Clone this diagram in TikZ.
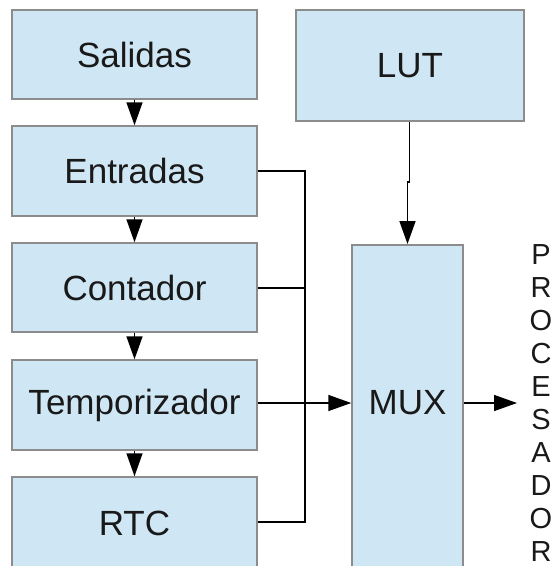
\documentclass[tikz,border=0pt]{standalone}
\usepackage{fontspec}
\setmainfont{Liberation Sans}
\usetikzlibrary{arrows.meta}
\definecolor{boxfill}{RGB}{207,230,244}
\definecolor{boxline}{RGB}{140,140,140}
\definecolor{txt}{RGB}{25,25,25}
\tikzset{
  blk/.style={draw=boxline, fill=boxfill, line width=1.5pt, inner sep=0pt,
    text=txt, font=\fontsize{35}{40}\selectfont},
  wire/.style={draw=black, line width=1.5pt},
  tri/.style={-{Triangle[length=23pt,width=16pt]}},
}
\begin{document}
\begin{tikzpicture}[x=1pt,y=-1pt]
\useasboundingbox (0,0) rectangle (555,566);
% left column
\node[blk, minimum width=245pt, minimum height=89pt] (sal) at (134.5,54.5) {Salidas};
\node[blk, minimum width=245pt, minimum height=90pt] (ent) at (134.5,171) {Entradas};
\node[blk, minimum width=245pt, minimum height=89pt] (con) at (134.5,287.5) {Contador};
\node[blk, minimum width=245pt, minimum height=90pt] (tem) at (134.5,405) {Temporizador};
\node[blk, minimum width=245pt, minimum height=92pt] (rtc) at (134.5,523) {RTC};
% LUT and MUX
\node[blk, minimum width=228pt, minimum height=111pt] (lut) at (410,65.5) {LUT};
\node[blk, minimum width=111pt, minimum height=340pt, anchor=north] (mux) at (407.5,244) {};
\node[text=txt, font=\fontsize{35}{40}\selectfont, inner sep=0pt] (muxl) at (407.5,403) {MUX};
% PROCESADOR
\node[text=txt, font=\fontsize{29}{33}\selectfont, align=center, inner sep=0pt, anchor=north] (proc) at (541,244)
  {P\\R\\O\\C\\E\\S\\A\\D\\O\\R};
% chain arrows
\draw[wire, tri] (sal.south) -- (ent.north);
\draw[wire, tri] (ent.south) -- (con.north);
\draw[wire, tri] (con.south) -- (tem.north);
\draw[wire, tri] (tem.south) -- (rtc.north);
% bus
\coordinate (bt) at (305,171);
\coordinate (bm) at (305,288);
\coordinate (bb) at (305,522);
\draw[wire] (ent.east |- bt) -- (bt) -- (bb) -- (rtc.east |- bb);
\draw[wire] (con.east |- bm) -- (bm);
\draw[wire, tri] (tem.east |- muxl) -- (mux.west |- muxl);
% LUT to MUX
\coordinate (j1) at (409.5,182);
\coordinate (j2) at (407.5,182);
\draw[wire, tri] (lut.south -| j1) -- (j1) -- (j2) -- (mux.north);
% MUX out
\coordinate (out) at (517,403);
\draw[wire, tri] (mux.east |- muxl) -- (out);
\end{tikzpicture}
\end{document}
